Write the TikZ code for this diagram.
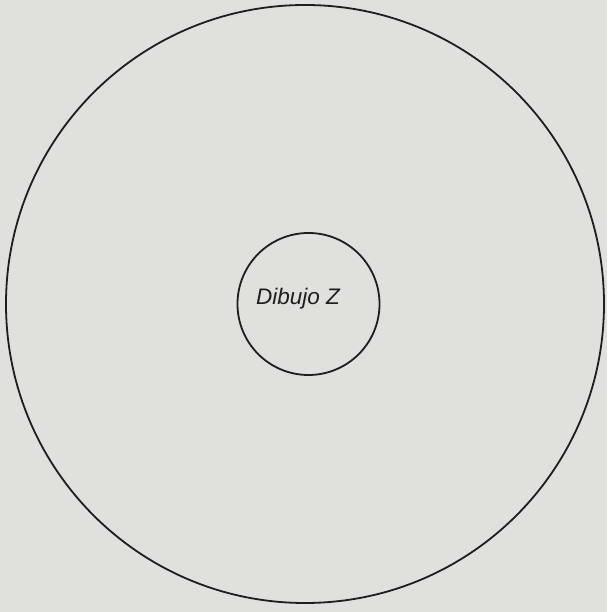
\documentclass[tikz,border=0pt]{standalone}
\usepackage{fontspec}
\setmainfont{Liberation Sans}
\definecolor{paper}{RGB}{224,224,220}
\definecolor{ink}{RGB}{30,30,30}
\tikzset{ring/.style={draw=ink,line width=1.8pt,circle,inner sep=0pt},
  label/.style={font=\itshape\fontsize{22.5}{26}\selectfont,text=ink}}
\begin{document}
\begin{tikzpicture}[x=1pt,y=1pt]
\fill[paper] (0,0) rectangle (607,612);
\useasboundingbox (0,0) rectangle (607,612);
\node[ring,minimum size=598pt] (outer) at (305,308) {};
\node[ring,minimum size=142pt] (inner) at (308.5,308) {};
\node[label] (txt) at (298,313) {Dibujo Z};
\end{tikzpicture}
\end{document}
